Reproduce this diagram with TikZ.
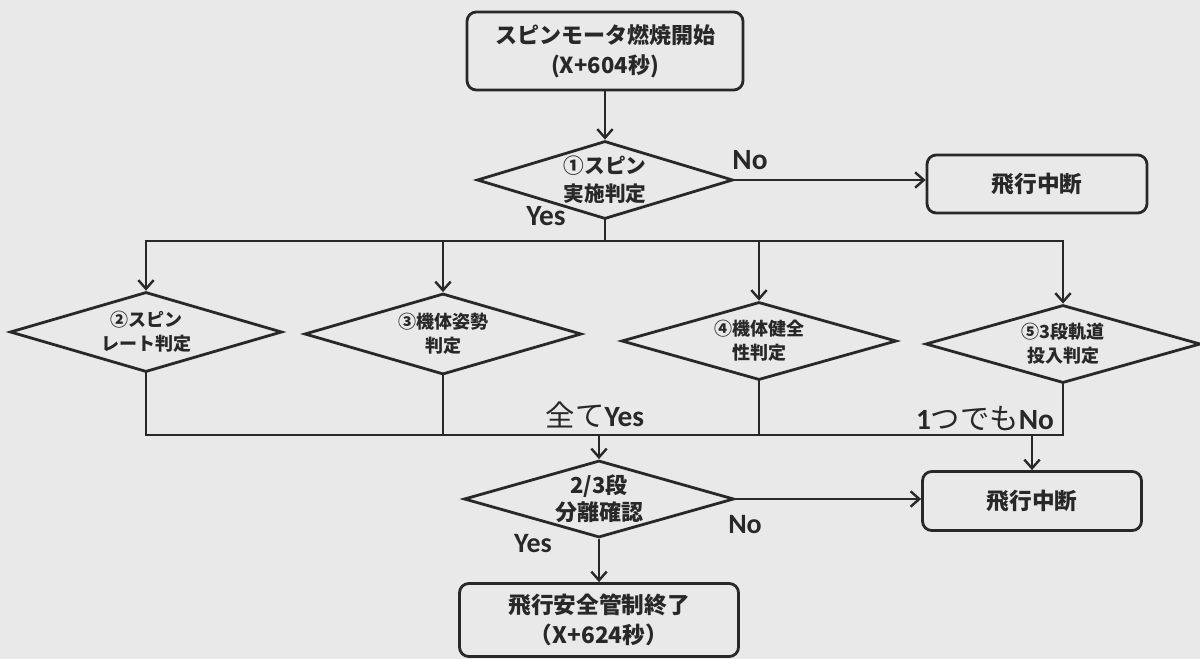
\documentclass[tikz,border=0pt]{standalone}
\usepackage{fontspec}
\newfontfamily\cjk{Noto Sans CJK JP}
\newfontfamily\lat{Carlito}
\usetikzlibrary{shapes.geometric,arrows.meta}
\definecolor{bg}{RGB}{233,233,233}
\definecolor{ink}{RGB}{40,40,40}
\begin{document}
\begin{tikzpicture}[x=0.75pt,y=-0.75pt,
  shp/.style={draw=ink,line width=2.1pt,text=ink,inner sep=0pt,align=center},
  box/.style={shp,rectangle,rounded corners=7pt},
  dia/.style={shp,diamond,aspect=3.4},
  conn/.style={draw=ink,line width=2.1pt,line cap=rect},
  arr/.style={draw=ink,line width=2.1pt,-{Straight Barb[length=6.5pt,width=11.5pt,line width=1.8pt]}},
  lab/.style={text=ink,inner sep=0pt,font=\lat\bfseries\fontsize{22}{24}\selectfont},
  boxfont/.style={font=\cjk\bfseries\fontsize{17}{22.5}\selectfont},
  dfont/.style={font=\cjk\bfseries\fontsize{13.5}{18}\selectfont}
]
\fill[bg] (0,0) rectangle (1200,659);
\useasboundingbox (0,0) rectangle (1200,659);

\node[box,font=\cjk\bfseries\fontsize{16.5}{22.5}\selectfont,minimum width=207pt,minimum height=58.5pt] (start) at (605,51) {スピンモータ燃焼開始\\(X+604秒)};
\node[dia,font=\cjk\bfseries\fontsize{15.5}{21}\selectfont,minimum width=192pt,minimum height=58.5pt] (d1) at (605,180) {①スピン\\実施判定};
\node[box,boxfont,minimum width=165pt,minimum height=43.5pt] (stop1) at (1037,184) {飛行中断};

\node[dia,dfont,minimum width=204pt,minimum height=60pt] (d2) at (146,332) {②スピン\\レート判定};
\node[dia,dfont,minimum width=207.75pt,minimum height=60.75pt] (d3) at (443,334) {③機体姿勢\\判定};
\node[dia,dfont,minimum width=206.25pt,minimum height=58.5pt] (d4) at (759,341) {④機体健全\\性判定};
\node[dia,dfont,minimum width=206.25pt,minimum height=58.5pt] (d5) at (1063,344) {⑤3段軌道\\投入判定};

\node[dia,font=\cjk\bfseries\fontsize{16.5}{20}\selectfont,minimum width=202.5pt,minimum height=57.75pt] (d6) at (599,499) {2/3段\\分離確認};
\node[box,boxfont,minimum width=164.25pt,minimum height=44.25pt] (stop2) at (1032,501) {飛行中断};
\node[box,boxfont,minimum width=209.25pt,minimum height=54.75pt] (end) at (599,620) {飛行安全管制終了\\（X+624秒）};

\coordinate (sp) at (605,241);
\coordinate (mg) at (605,435);

\draw[arr] (start.south) -- (d1.north);
\draw[arr] (d1.east) -- (d1.east -| stop1.west);
\draw[conn] (d1.south) -- (d1.south |- sp);
\draw[conn] (d2.north |- sp) -- (d5.north |- sp);
\foreach \n in {d2,d3,d4,d5} \draw[arr] (\n.north |- sp) -- (\n.north);
\foreach \n in {d2,d3,d4,d5} \draw[conn] (\n.south) -- (\n.south |- mg);
\draw[conn] (d2.south |- mg) -- (d5.south |- mg);
\draw[arr] (d6.north |- mg) -- (d6.north);
\draw[arr] (stop2.north |- mg) -- (stop2.north);
\draw[arr] (d6.east) -- (d6.east -| stop2.west);
\draw[arr] (d6.south) -- (end.north);

\node[lab] (lno1) at (750,160) {No};
\node[lab] (lyes1) at (546,216) {Yes};
\node[lab] (lall) at (595,415) {{\cjk\mdseries 全て}Yes};
\node[lab] (lany) at (985,419) {1{\cjk\mdseries つでも}No};
\node[lab,font=\lat\bfseries\fontsize{21}{24}\selectfont] (lno2) at (745,525) {No};
\node[lab,font=\lat\bfseries\fontsize{21}{24}\selectfont] (lyes2) at (533,544) {Yes};
\end{tikzpicture}
\end{document}
